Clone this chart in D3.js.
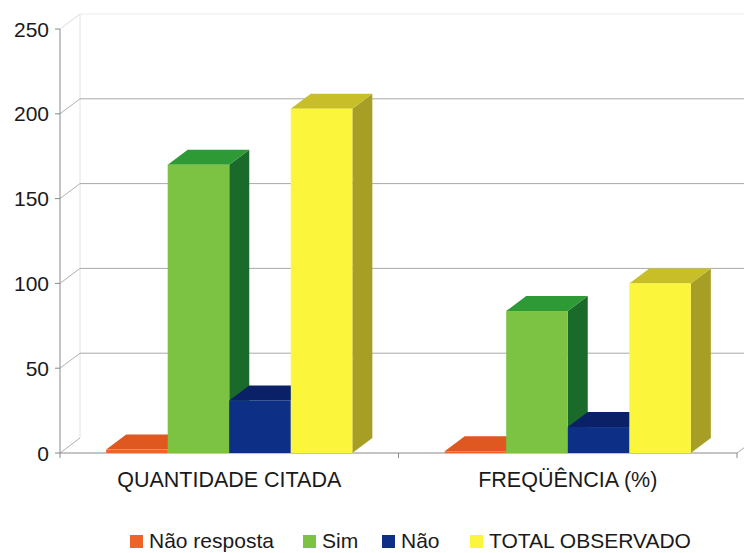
<!DOCTYPE html>
<html>
<head>
<meta charset="utf-8">
<script src="https://cdn.jsdelivr.net/npm/d3@7"></script>
<style>
  html, body { margin: 0; padding: 0; background: #fff; }
  svg { display: block; font-family: "Liberation Sans", Arial, Helvetica, sans-serif; }
</style>
</head>
<body>
<svg id="chart" width="744" height="553"></svg>
<script>
// ---- data ----
const categories = ["QUANTIDADE CITADA", "FREQÜÊNCIA (%)"];
const series = ["Não resposta", "Sim", "Não", "TOTAL OBSERVADO"];
const naoResposta = [2, 1.0];
const sim = [170, 83.7];
const nao = [31, 15.3];
const totalObservado = [203, 100];
const yTicks = [0, 50, 100, 150, 200, 250];

(function () {
const values = [naoResposta, sim, nao, totalObservado];
const colors = {
  "Não resposta":    { front: "#ee6428", top: "#de5820", side: "#b4461a" },
  "Sim":             { front: "#7cc243", top: "#2d9a35", side: "#1a6a2c" },
  "Não":             { front: "#0e2f86", top: "#0b2167", side: "#0a1c58" },
  "TOTAL OBSERVADO": { front: "#fbf53b", top: "#c8bf28", side: "#a69e25" }
};

const svg = d3.select("#chart");
const W = 744;
const mLeft = 60, mRight = 737, mBottom = 453, mTop = 29;
const dx = 20, dy = -15;

const y = d3.scaleLinear().domain([0, 250]).range([mBottom, mTop]);
const x0 = d3.scaleBand().domain(categories).range([mLeft, mRight]).padding(0);
const x1 = d3.scaleBand().domain(series).range([0, x0.bandwidth()]).paddingInner(0).paddingOuter(0.75);

// back wall vertical line
svg.append("line")
  .attr("x1", mLeft + dx).attr("x2", mLeft + dx)
  .attr("y1", y(250) + dy).attr("y2", y(0) + dy)
  .attr("stroke", "#e2e2e2").attr("stroke-width", 1);

// gridlines on back wall + diagonals
const g = svg.append("g");
yTicks.forEach(v => {
  const yy = y(v);
  const faint = v === 250;
  if (v > 0) {
    g.append("line")
      .attr("x1", mLeft + dx).attr("x2", W)
      .attr("y1", yy + dy).attr("y2", yy + dy)
      .attr("stroke", faint ? "#ececec" : "#a9a9a9").attr("stroke-width", 1);
  }
  g.append("line")
    .attr("x1", mLeft).attr("x2", mLeft + dx)
    .attr("y1", yy).attr("y2", yy + dy)
    .attr("stroke", faint ? "#dddddd" : "#b0b0b0").attr("stroke-width", 1);
  g.append("line")
    .attr("x1", mLeft - 5).attr("x2", mLeft)
    .attr("y1", yy).attr("y2", yy)
    .attr("stroke", "#888").attr("stroke-width", 1);
  g.append("text")
    .attr("x", 49).attr("y", yy)
    .attr("dy", "0.36em")
    .attr("text-anchor", "end")
    .attr("font-size", 21)
    .attr("fill", "#1a1a1a")
    .text(v);
});

// front y axis line
svg.append("line")
  .attr("x1", mLeft).attr("x2", mLeft)
  .attr("y1", y(250)).attr("y2", mBottom + 5)
  .attr("stroke", "#8a8a8a").attr("stroke-width", 1);

// floor front edge
svg.append("line")
  .attr("x1", mLeft).attr("x2", mRight)
  .attr("y1", mBottom).attr("y2", mBottom)
  .attr("stroke", "#8a8a8a").attr("stroke-width", 1);
svg.append("line")
  .attr("x1", mRight).attr("x2", mRight + dx)
  .attr("y1", mBottom).attr("y2", mBottom + dy)
  .attr("stroke", "#aaaaaa").attr("stroke-width", 1);
[x0(categories[1]), mRight].forEach(xx => {
  svg.append("line")
    .attr("x1", xx).attr("x2", xx)
    .attr("y1", mBottom).attr("y2", mBottom + 5)
    .attr("stroke", "#8a8a8a").attr("stroke-width", 1);
});

// bars
const bars = svg.append("g");
categories.forEach((cat, ci) => {
  series.forEach((s, si) => {
    const v = values[si][ci];
    const xa = x0(cat) + x1(s);
    const xb = xa + x1.bandwidth();
    const yt = y(v), yb = y(0);
    const c = colors[s];
    bars.append("polygon")
      .attr("points", [[xb, yt], [xb + dx, yt + dy], [xb + dx, yb + dy], [xb, yb]].map(p => p.join(",")).join(" "))
      .attr("fill", c.side);
    bars.append("polygon")
      .attr("points", [[xa, yt], [xa + dx, yt + dy], [xb + dx, yt + dy], [xb, yt]].map(p => p.join(",")).join(" "))
      .attr("fill", c.top);
    bars.append("rect")
      .attr("x", xa).attr("y", yt)
      .attr("width", xb - xa).attr("height", yb - yt)
      .attr("fill", c.front);
  });
});

// category labels
categories.forEach(cat => {
  svg.append("text")
    .attr("x", x0(cat) + x0.bandwidth() / 2)
    .attr("y", 487)
    .attr("text-anchor", "middle")
    .attr("font-size", 21.5)
    .attr("fill", "#1a1a1a")
    .text(cat);
});

// legend
const legendX = [130, 303, 382, 470];
const legend = svg.append("g");
series.forEach((s, i) => {
  legend.append("rect")
    .attr("x", legendX[i]).attr("y", 535)
    .attr("width", 13).attr("height", 13)
    .attr("fill", colors[s].front);
  legend.append("text")
    .attr("x", legendX[i] + 19).attr("y", 548)
    .attr("font-size", 21)
    .attr("fill", "#1a1a1a")
    .text(s);
});
})();
</script>
</body>
</html>
